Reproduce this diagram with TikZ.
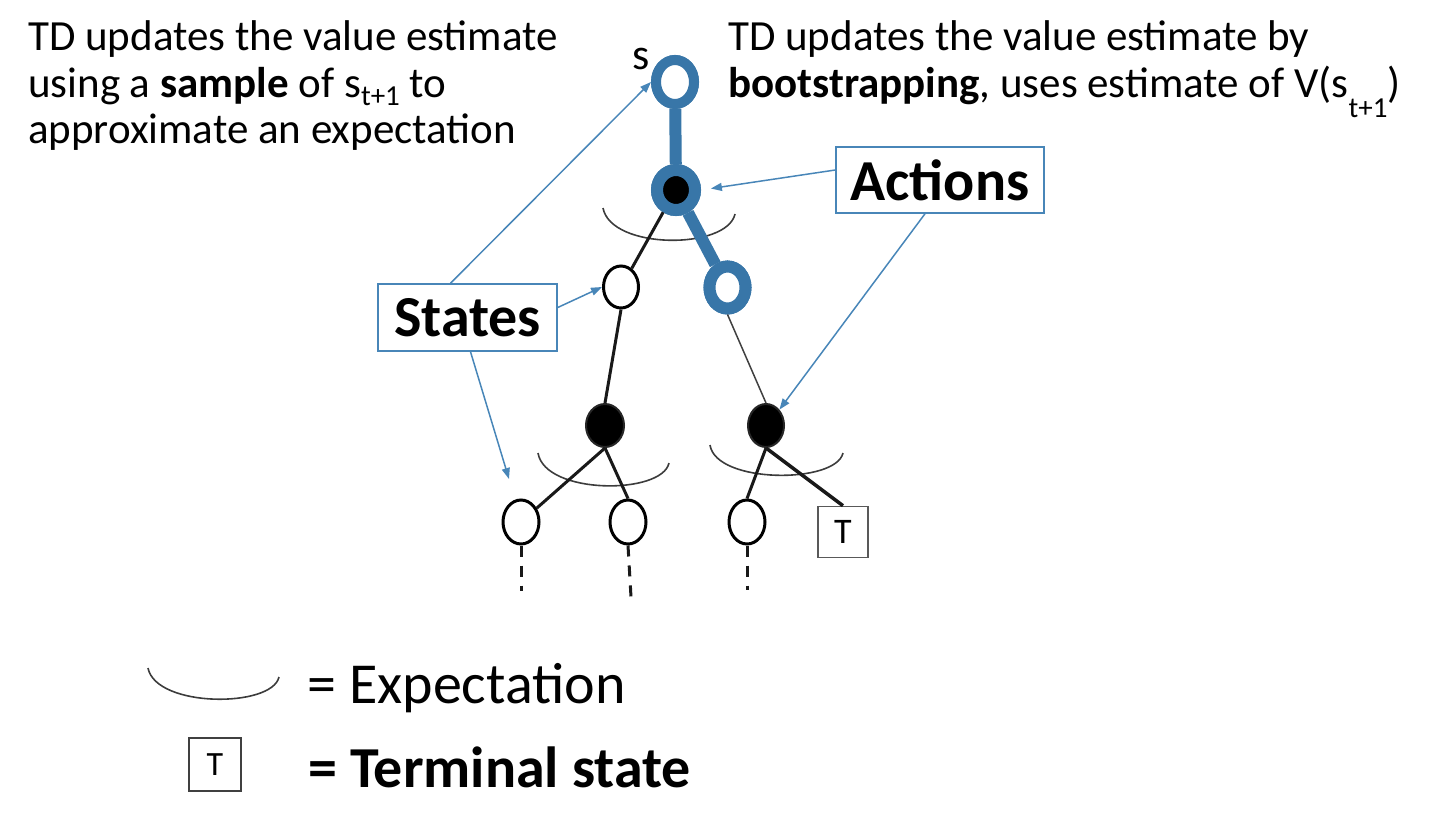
\documentclass[tikz,border=0pt]{standalone}
\usepackage{fontspec}
\setmainfont{Carlito}
\usetikzlibrary{shapes.geometric,arrows.meta}
\definecolor{tdblue}{RGB}{56,118,168}
\definecolor{callblue}{RGB}{72,134,184}
\definecolor{arcgray}{RGB}{60,60,60}
\newcommand\lowsub[2]{\raisebox{-#1}{\fontsize{29}{29}\selectfont #2}}
\begin{document}
\begin{tikzpicture}[x=1pt,y=-1pt,
  toptext/.style={anchor=base west, inner sep=0, font=\fontsize{43}{47}\selectfont},
  bigtext/.style={anchor=base west, inner sep=0, font=\fontsize{58}{62}\selectfont},
  state/.style={ellipse, draw=black, line width=3pt, fill=white, minimum width=36pt, minimum height=44pt, inner sep=0},
  action/.style={ellipse, draw=black!85, line width=2pt, fill=black, minimum width=38pt, minimum height=43pt, inner sep=0},
  bring/.style={ellipse, draw=tdblue, line width=11pt, fill=white, inner sep=0},
  edge/.style={draw=black!90, line width=3pt},
  thinedge/.style={draw=black!75, line width=1.5pt},
  bluepath/.style={draw=tdblue, line width=12pt},
  dots/.style={draw=black!90, line width=3pt, dash pattern=on 11pt off 9pt},
  expect/.style={draw=arcgray, line width=1.6pt},
  termbox/.style={draw=black!65, line width=1.6pt, fill=white, inner sep=0},
  labelbox/.style={draw=callblue, line width=1.5pt, fill=white, inner sep=0, font=\bfseries\fontsize{58}{58}\selectfont},
  callout/.style={draw=callblue, line width=1.5pt, -{Triangle[length=11pt,width=8pt]}}
]
\useasboundingbox (0,0) rectangle (1440,819);

% ---- top texts
\node[toptext] (lt1) at (28,50) {TD updates the value estimate};
\node[toptext] (lt2) at (28,97) {using a \textbf{sample} of s\lowsub{8pt}{t+1} to};
\node[toptext] (lt3) at (28,143) {approximate an expectation};
\node[toptext] (rt1) at (728,50) {TD updates the value estimate by};
\node[toptext] (rt2) at (728,97) {\textbf{bootstrapping}, uses estimate of V(s\lowsub{20pt}{t+1})};

% ---- tree nodes
\node[bring, minimum width=38pt, minimum height=44pt, line width=10pt] (s) at (675,82) {};
\node[anchor=base, inner sep=0, font=\fontsize{44}{44}\selectfont] (slab) at (641,69) {s};
\node[bring, fill=black, minimum width=38pt, minimum height=40pt, line width=12pt] (a1) at (676,190) {};
\node[state, minimum width=35pt, minimum height=42pt] (s1) at (621,287) {};
\node[bring, minimum width=36pt, minimum height=42pt, line width=12pt] (s2) at (727.5,287.5) {};
\node[action] (a2) at (605,425.5) {};
\node[action, minimum width=36pt] (a3) at (766,425.5) {};
\node[state] (l1) at (521,522) {};
\node[state] (l2) at (628,522) {};
\node[state] (l3) at (747,522) {};
\node[termbox, minimum width=50pt, minimum height=51pt, font=\fontsize{36}{36}\selectfont] (t) at (843,532) {T};

\coordinate (l1d) at (521,591);
\coordinate (l2d) at (631,597);
\coordinate (l3d) at (747,590);

% ---- expectation arcs
\draw[expect] (603,208) .. controls (611,250) and (727,250) .. (735,214);
\draw[expect] (538,453) .. controls (545,495) and (662,495) .. (669,463);
\draw[expect] (710,445) .. controls (716,484) and (836,484) .. (843,453);

% ---- connectors
\draw[bluepath] (s) -- (a1);
\draw[bluepath] (a1) -- (s2);
\node[bring, minimum width=38pt, minimum height=44pt, line width=10pt] at (s) {};
\node[bring, fill=black, minimum width=38pt, minimum height=40pt, line width=12pt] at (a1) {};
\node[bring, minimum width=36pt, minimum height=42pt, line width=12pt] at (s2) {};
\draw[edge] (a1.240) -- (s1.60);
\draw[edge] (s1.south) -- (a2.north);
\draw[thinedge] (s2.south) -- (a3.north);
\draw[edge] (a2.south) -- (l1);
\draw[edge] (a2.south) -- (l2.north);
\draw[edge] (a3.south) -- (l3.north);
\draw[edge, line width=3.5pt] (a3.south) -- (t.north);
\draw[dots] (l1.south) -- (l1d);
\draw[dots] (l2.south) -- (l2d);
\draw[dots] (l3.south) -- (l3d);

% ---- label boxes and callouts
\node[labelbox, minimum width=179pt, minimum height=67pt] (states) at (467.5,317.5) {States};
\node[labelbox, minimum width=208pt, minimum height=66pt] (actions) at (940,180) {Actions};
\coordinate (sarr) at (509,479);
\draw[callout] ([xshift=-17pt]states.north) -- (s.west);
\draw[callout] ([yshift=10pt]states.east) -- (s1.west);
\draw[callout] ([xshift=3pt]states.south) -- (sarr);
\draw[callout, shorten >=10pt] ([yshift=10pt]actions.west) -- (a1.east);
\draw[callout] ([xshift=-15pt]actions.south) -- (a3.north east);

% ---- legend
\draw[expect] (148,668) .. controls (156,708) and (272,708) .. (279,677);
\node[bigtext] (lexp) at (307,703) {= Expectation};
\node[termbox, draw=black!75, minimum width=52pt, minimum height=53pt, font=\fontsize{34}{34}\selectfont] (lt) at (215,764.5) {T};
\node[bigtext, font=\bfseries\fontsize{58}{62}\selectfont] (lterm) at (308,787) {= Terminal state};
\end{tikzpicture}
\end{document}
